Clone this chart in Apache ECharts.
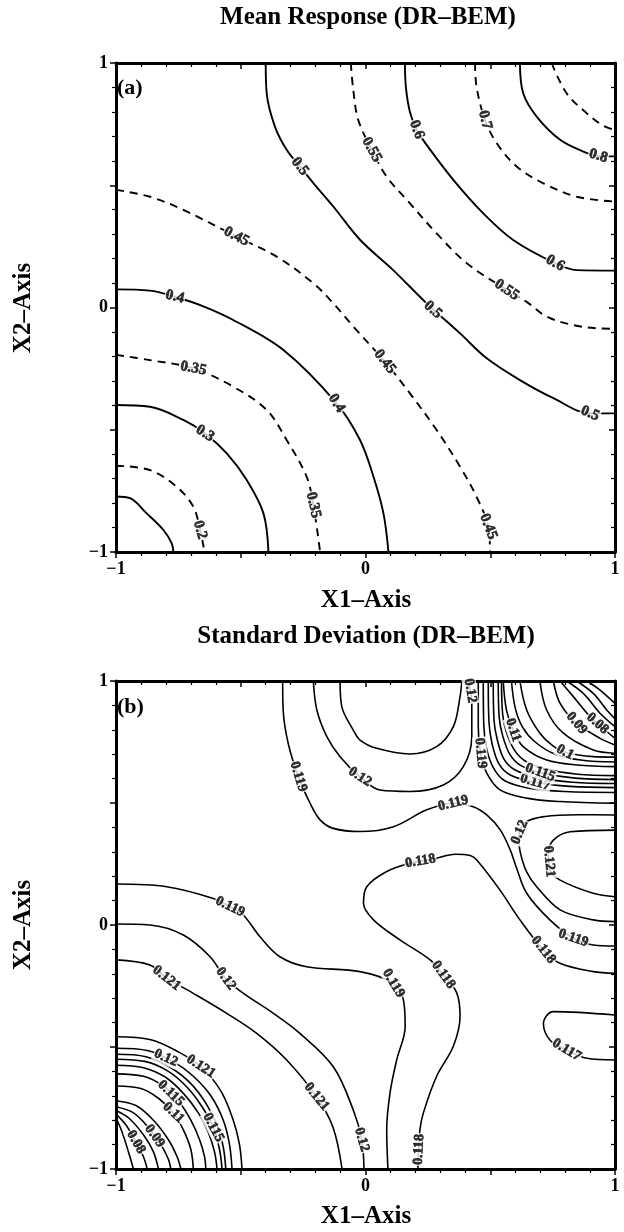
<!DOCTYPE html>
<html><head><meta charset="utf-8">
<script src="https://cdn.jsdelivr.net/npm/echarts@6/dist/echarts.min.js"></script>
<style>html,body{margin:0;padding:0;background:#fff}#c{width:624px;height:1232px}</style>
</head><body><div id="c"></div><script>
// ---------- tick labels ----------
const tickValues = [-1, 0, 1];
const tickLabels = ['\u22121', '0', '1'];

// ---------- Panel (a) Mean Response: contour polylines [x1, x2] ----------
const meanC015 = [[-1,-0.773],[-0.944,-0.780],[-0.877,-0.842],[-0.810,-0.910],[-0.777,-0.964],[-0.770,-1]];
const meanC020 = [[-1,-0.647],[-0.864,-0.665],[-0.757,-0.733],[-0.690,-0.815],[-0.663,-0.910],[-0.645,-1]];
const meanC030 = [[-1,-0.399],[-0.864,-0.406],[-0.730,-0.460],[-0.643,-0.515],[-0.556,-0.597],[-0.476,-0.706],[-0.409,-0.842],[-0.389,-1]];
const meanC035 = [[-1,-0.194],[-0.864,-0.215],[-0.690,-0.249],[-0.530,-0.324],[-0.396,-0.419],[-0.316,-0.542],[-0.236,-0.692],[-0.209,-0.808],[-0.182,-1]];
const meanC040 = [[-1,0.074],[-0.864,0.069],[-0.764,0.044],[-0.650,0.005],[-0.530,-0.051],[-0.329,-0.174],[-0.116,-0.392],[-0.022,-0.542],[0.032,-0.692],[0.072,-0.842],[0.092,-1]];
const meanC045 = [[-1,0.481],[-0.864,0.453],[-0.730,0.399],[-0.517,0.290],[-0.356,0.208],[-0.209,0.099],[-0.129,0.017],[-0.049,-0.078],[0.078,-0.222],[0.178,-0.351],[0.285,-0.501],[0.379,-0.651],[0.445,-0.774],[0.492,-0.896],[0.499,-1]];
const meanC050 = [[-0.400,1],[-0.396,0.876],[-0.363,0.740],[-0.316,0.645],[-0.263,0.577],[-0.209,0.509],[-0.129,0.413],[-0.022,0.277],[0.111,0.153],[0.245,0.017],[0.379,-0.106],[0.486,-0.208],[0.619,-0.297],[0.753,-0.371],[0.900,-0.433],[1,-0.433]];
const meanC055 = [[-0.059,1],[-0.049,0.890],[-0.029,0.767],[0.025,0.645],[0.085,0.535],[0.178,0.426],[0.285,0.303],[0.406,0.181],[0.566,0.072],[0.650,0.020],[0.726,-0.037],[0.833,-0.072],[0.927,-0.085],[1,-0.087]];
const meanC060 = [[0.158,1],[0.162,0.900],[0.178,0.800],[0.205,0.728],[0.245,0.665],[0.352,0.522],[0.472,0.385],[0.592,0.276],[0.760,0.181],[0.847,0.153],[1,0.151]];
const meanC070 = [[0.439,1],[0.445,0.903],[0.479,0.767],[0.526,0.672],[0.606,0.577],[0.713,0.508],[0.847,0.453],[1,0.433]];
const meanC080 = [[0.619,1],[0.632,0.876],[0.686,0.781],[0.780,0.686],[0.873,0.638],[0.933,0.620],[1,0.618]];
const meanC090 = [[0.746,1],[0.806,0.876],[0.886,0.795],[0.947,0.747],[1,0.725]];
const meanLabels = [
  ['0.5',-0.263,0.577],['0.5',0.27,-0.01],['0.5',0.90,-0.433],
  ['0.6',0.205,0.728],['0.6',0.760,0.181],['0.7',0.479,0.767],['0.8',0.933,0.620],
  ['0.55',0.025,0.645],['0.55',0.566,0.072],
  ['0.45',-0.517,0.290],['0.45',0.078,-0.222],['0.45',0.492,-0.896],
  ['0.4',-0.764,0.044],['0.4',-0.116,-0.392],
  ['0.35',-0.690,-0.249],['0.35',-0.209,-0.808],
  ['0.3',-0.643,-0.515],['0.2',-0.663,-0.910]
];

// ---------- Panel (b) Standard Deviation: contour polylines [x1, x2] ----------
const sdTopLeft119 = [[-0.332,1],[-0.330,0.881],[-0.310,0.745],[-0.269,0.608],[-0.222,0.499],[-0.182,0.431],[-0.129,0.396],[-0.022,0.383],[0.112,0.403],[0.246,0.472],[0.352,0.499],[0.432,0.485],[0.486,0.451],[0.540,0.390],[0.580,0.308],[0.605,0.235],[0.646,0.130],[0.739,0.021],[0.833,-0.054],[0.913,-0.082],[1,-0.086]];
const sdTop120 = [[-0.209,1],[-0.195,0.881],[-0.155,0.772],[-0.102,0.690],[-0.022,0.607],[0.058,0.553],[0.178,0.547],[0.312,0.574],[0.392,0.649],[0.426,0.772],[0.426,0.908],[0.412,1]];
const sdTop121 = [[-0.102,1],[-0.095,0.895],[-0.049,0.799],[-0.022,0.758],[0.045,0.724],[0.178,0.701],[0.285,0.731],[0.352,0.813],[0.379,0.936],[0.386,1]];
const sdTopRight119 = [[0.452,1],[0.452,0.813],[0.461,0.704],[0.486,0.622],[0.539,0.554],[0.646,0.520],[0.780,0.506],[1,0.499]];
const sdBand118 = [[0.472,1],[0.474,0.82],[0.486,0.72],[0.515,0.64],[0.56,0.59],[0.66,0.56],[0.80,0.547],[1,0.543]];
const sdBand117 = [[0.492,1],[0.495,0.83],[0.508,0.74],[0.535,0.66],[0.58,0.615],[0.68,0.585],[0.82,0.568],[1,0.563]];
const sdBand116 = [[0.512,1],[0.515,0.84],[0.528,0.76],[0.555,0.68],[0.60,0.635],[0.69,0.605],[0.83,0.585],[1,0.58]];
const sdBand115 = [[0.532,1],[0.536,0.85],[0.55,0.775],[0.578,0.70],[0.62,0.655],[0.70,0.625],[0.84,0.602],[1,0.596]];
const sdBand113 = [[0.545,1],[0.55,0.86],[0.565,0.79],[0.595,0.72],[0.64,0.672],[0.72,0.64],[0.85,0.618],[1,0.612]];
const sdC110 = [[0.552,1],[0.565,0.881],[0.592,0.799],[0.632,0.731],[0.726,0.676],[0.846,0.656],[1,0.649]];
const sdC105 = [[0.585,1],[0.60,0.89],[0.63,0.81],[0.68,0.75],[0.76,0.70],[0.87,0.675],[1,0.668]];
const sdC100 = [[0.619,1],[0.646,0.881],[0.699,0.786],[0.75,0.735],[0.80,0.708],[0.913,0.69],[1,0.688]];
const sdC095 = [[0.699,1],[0.726,0.881],[0.793,0.786],[0.913,0.717],[1,0.704]];
const sdC090 = [[0.753,1],[0.780,0.908],[0.846,0.827],[0.940,0.765],[1,0.738]];
const sdC080 = [[0.780,1],[0.833,0.936],[0.900,0.854],[0.967,0.793],[1,0.765]];
const sdC070 = [[0.806,1],[0.873,0.949],[0.940,0.868],[1,0.813]];
const sdC060 = [[0.846,1],[0.913,0.949],[0.967,0.881],[1,0.845]];
const sdC050 = [[0.887,1],[0.940,0.963],[1,0.908]];
const sdRight120 = [[1,0.451],[0.85,0.452],[0.72,0.445],[0.64,0.42],[0.615,0.36],[0.62,0.30],[0.645,0.22],[0.686,0.157],[0.78,0.062],[0.913,0.021],[1,0.014]];
const sdRight121 = [[1,0.389],[0.820,0.382],[0.753,0.348],[0.733,0.294],[0.739,0.225],[0.780,0.184],[0.913,0.130],[1,0.116]];
const sdMid118 = [[0.21,-1],[0.218,-0.84],[0.232,-0.770],[0.285,-0.620],[0.352,-0.497],[0.379,-0.374],[0.366,-0.279],[0.312,-0.204],[0.259,-0.143],[0.138,-0.061],[0.032,0.021],[-0.008,0.089],[0.005,0.157],[0.085,0.219],[0.178,0.253],[0.27,0.27],[0.36,0.29],[0.42,0.285],[0.446,0.266],[0.539,0.143],[0.619,0.021],[0.713,-0.102],[0.779,-0.157],[0.913,-0.191],[1,-0.198]];
const sdRight117 = [[1,-0.369],[0.753,-0.355],[0.713,-0.403],[0.739,-0.471],[0.806,-0.512],[0.887,-0.546],[1,-0.553]];
const sdLeft119 = [[-1,0.168],[-0.797,0.157],[-0.610,0.109],[-0.543,0.075],[-0.490,0.041],[-0.423,-0.048],[-0.343,-0.130],[-0.236,-0.171],[-0.022,-0.191],[0.112,-0.239],[0.152,-0.307],[0.159,-0.416],[0.125,-0.553],[0.098,-0.690],[0.085,-0.840],[0.09,-1]];
const sdLeft120 = [[-1,0.004],[-0.864,0.0],[-0.730,-0.041],[-0.623,-0.130],[-0.56,-0.22],[-0.489,-0.280],[-0.369,-0.362],[-0.263,-0.444],[-0.129,-0.581],[-0.049,-0.758],[-0.015,-0.88],[-0.006,-1]];
const sdLeft121 = [[-1,-0.143],[-0.864,-0.164],[-0.797,-0.218],[-0.690,-0.280],[-0.556,-0.362],[-0.436,-0.444],[-0.316,-0.553],[-0.196,-0.704],[-0.13,-0.83],[-0.094,-1]];
const sdArc1 = [[-1,-0.458],[-0.86,-0.47],[-0.75,-0.52],[-0.66,-0.58],[-0.58,-0.68],[-0.53,-0.80],[-0.505,-0.90],[-0.495,-1]];
const sdArc2 = [[-1,-0.505],[-0.87,-0.515],[-0.77,-0.56],[-0.69,-0.62],[-0.62,-0.70],[-0.57,-0.80],[-0.545,-0.90],[-0.535,-1]];
const sdArc3 = [[-1,-0.53],[-0.88,-0.54],[-0.78,-0.585],[-0.70,-0.65],[-0.64,-0.73],[-0.595,-0.82],[-0.57,-0.91],[-0.56,-1]];
const sdArc4 = [[-1,-0.55],[-0.88,-0.56],[-0.79,-0.60],[-0.715,-0.665],[-0.655,-0.745],[-0.61,-0.83],[-0.585,-0.92],[-0.575,-1]];
const sdArc5 = [[-1,-0.575],[-0.89,-0.585],[-0.80,-0.625],[-0.73,-0.69],[-0.67,-0.77],[-0.63,-0.85],[-0.605,-0.93],[-0.595,-1]];
const sdArc6 = [[-1,-0.61],[-0.89,-0.62],[-0.81,-0.66],[-0.75,-0.72],[-0.70,-0.80],[-0.665,-0.88],[-0.645,-0.95],[-0.64,-1]];
const sdArc7 = [[-1,-0.66],[-0.90,-0.67],[-0.83,-0.71],[-0.77,-0.77],[-0.73,-0.84],[-0.70,-0.92],[-0.69,-1]];
const sdFan1 = [[-1,-0.72],[-0.92,-0.74],[-0.85,-0.80],[-0.79,-0.88],[-0.755,-0.95],[-0.74,-1]];
const sdFan2 = [[-1,-0.745],[-0.93,-0.77],[-0.87,-0.83],[-0.82,-0.90],[-0.79,-0.96],[-0.78,-1]];
const sdFan3 = [[-1,-0.76],[-0.95,-0.79],[-0.89,-0.86],[-0.85,-0.93],[-0.83,-1]];
const sdFan4 = [[-1,-0.775],[-0.96,-0.82],[-0.92,-0.89],[-0.89,-0.95],[-0.875,-1]];
const sdFan5 = [[-1,-0.79],[-0.975,-0.85],[-0.95,-0.93],[-0.93,-1]];
const sdLabels = [
  ['0.119',-0.269,0.608],['0.119',0.352,0.499],['0.119',0.833,-0.054],
  ['0.12',-0.022,0.607],['0.12',0.42,0.96],['0.119',0.461,0.704],
  ['0.117',0.68,0.585],['0.115',0.70,0.625],['0.11',0.592,0.799],['0.1',0.80,0.708],
  ['0.09',0.846,0.827],['0.08',0.93,0.826],
  ['0.12',0.618,0.38],['0.121',0.736,0.26],
  ['0.118',0.22,0.262],['0.118',0.312,-0.204],['0.118',0.713,-0.102],['0.118',0.214,-0.92],
  ['0.117',0.806,-0.512],
  ['0.119',-0.543,0.075],['0.119',0.112,-0.239],
  ['0.12',-0.56,-0.22],['0.12',-0.015,-0.88],
  ['0.121',-0.797,-0.218],['0.121',-0.196,-0.704],
  ['0.121',-0.66,-0.58],['0.12',-0.80,-0.545],['0.115',-0.78,-0.69],['0.11',-0.77,-0.77],
  ['0.09',-0.845,-0.865],['0.08',-0.92,-0.89],['0.115',-0.61,-0.83]
];

// ---------- build ----------
const SERIF = '"Liberation Serif","Times New Roman",serif';
const meanSolid = [meanC015, meanC030, meanC040, meanC050, meanC060, meanC080];
const meanDash = [meanC020, meanC035, meanC045, meanC055, meanC070, meanC090];
const sdAll = [sdTopLeft119, sdTop120, sdTop121, sdTopRight119, sdBand118, sdBand117, sdBand116, sdBand115, sdBand113,
  sdC110, sdC105, sdC100, sdC095, sdC090, sdC080, sdC070, sdC060, sdC050, sdRight120, sdRight121, sdMid118, sdRight117,
  sdLeft119, sdLeft120, sdLeft121, sdArc1, sdArc2, sdArc3, sdArc4, sdArc5, sdArc6, sdArc7,
  sdFan1, sdFan2, sdFan3, sdFan4, sdFan5];

const grids = [
  {left:116, top:63, width:499, height:489},
  {left:116, top:681, width:499, height:488}
];

function fmt(v){ const i = tickValues.indexOf(Math.round(v*1000)/1000); return i >= 0 ? tickLabels[i] : ''; }
function mkAxis(gi, pos, showLabel){
  return {type:'value', gridIndex:gi, position:pos, min:-1, max:1, interval:0.5,
    axisLine:{show:true, onZero:false, lineStyle:{color:'#000', width:3}},
    axisTick:{show:true, inside:!showLabel, length:6, lineStyle:{color:'#000', width:1.5}},
    minorTick:{show:true, splitNumber:5, length:4, lineStyle:{color:'#000', width:1.2}},
    splitLine:{show:false}, minorSplitLine:{show:false},
    axisLabel:{show:showLabel, formatter:fmt, color:'#000', fontFamily:SERIF, fontWeight:'bold', fontSize:18, margin:8}};
}
function angleFor(contours, x, y, g){
  const sx = g.width/2, sy = g.height/2;
  let best = Infinity, ang = 0;
  contours.forEach(c => {
    for (let i = 0; i < c.length-1; i++){
      const [x1,y1] = c[i], [x2,y2] = c[i+1];
      const dx = x2-x1, dy = y2-y1;
      const L = dx*dx+dy*dy || 1e-9;
      let t = ((x-x1)*dx + (y-y1)*dy)/L; t = Math.max(0, Math.min(1, t));
      const px = x1+t*dx - x, py = y1+t*dy - y;
      const d = px*px+py*py;
      if (d < best){ best = d; ang = Math.atan2(dy*sy, dx*sx)*180/Math.PI; }
    }
  });
  if (ang > 90) ang -= 180; if (ang < -90) ang += 180;
  return Math.round(ang);
}
const series = [];
function addLines(list, gi, dashed, width){
  list.forEach(pts => series.push({type:'line', xAxisIndex:gi*2, yAxisIndex:gi*2, data:pts, symbol:'none', showSymbol:false,
    smooth:0.35, silent:true, animation:false, z:2, clip:true,
    lineStyle:{color:'#000', width:width, type: dashed ? [8,6] : 'solid'}}));
}
function addLabels(labels, contours, gi, size){
  series.push({type:'scatter', xAxisIndex:gi*2, yAxisIndex:gi*2, symbol:'circle', symbolSize:2,
    itemStyle:{color:'rgba(255,255,255,0)'}, silent:true, animation:false, z:5, zlevel:0,
    data: labels.map(l => ({value:[l[1], l[2]], name:l[0],
      label:{show:true, formatter:l[0], rotate: angleFor(contours, l[1], l[2], grids[gi])}})),
    label:{show:true, position:'inside', color:'#000', fontFamily:SERIF,
      fontWeight:'bold', fontSize:size, textBorderColor:'#000', textBorderWidth:0.6,
      backgroundColor:'#fff', padding:[0,1,0,1]},
    labelLayout:{hideOverlap:false}});
}
addLines(meanSolid, 0, false, 1.9);
addLines(meanDash, 0, true, 1.9);
addLabels(meanLabels, meanSolid.concat(meanDash), 0, 15);
addLines(sdAll, 1, false, 1.6);
addLabels(sdLabels, sdAll, 1, 14);

function txt(x, y, t, size, align, rot){
  return {type:'text', x:x, y:y, rotation: rot || 0, z:10,
    style:{text:t, fill:'#000', font:'bold '+size+'px '+SERIF, align:align||'center', verticalAlign:'middle',
      textAlign:align||'center', textVerticalAlign:'middle'}};
}
const option = {
  backgroundColor:'#fff',
  animation:false,
  grid: grids.map(g => Object.assign({containLabel:false}, g)),
  xAxis:[mkAxis(0,'bottom',true), mkAxis(0,'top',false), mkAxis(1,'bottom',true), mkAxis(1,'top',false)],
  yAxis:[mkAxis(0,'left',true), mkAxis(0,'right',false), mkAxis(1,'left',true), mkAxis(1,'right',false)],
  series: series,
  graphic:[
    txt(368, 18, 'Mean Response (DR\u2013BEM)', 25),
    txt(366, 601, 'X1\u2013Axis', 25),
    txt(366, 637, 'Standard Deviation (DR\u2013BEM)', 25),
    txt(366, 1217, 'X1\u2013Axis', 25),
    txt(24, 308, 'X2\u2013Axis', 25, 'center', Math.PI/2),
    txt(24, 925, 'X2\u2013Axis', 25, 'center', Math.PI/2),
    txt(117, 88, '(a)', 22, 'left'),
    txt(117, 707, '(b)', 22, 'left')
  ]
};
const chart = echarts.init(document.getElementById('c'), null, {renderer:'canvas', width:624, height:1232});
chart.setOption(option);
</script></body></html>
